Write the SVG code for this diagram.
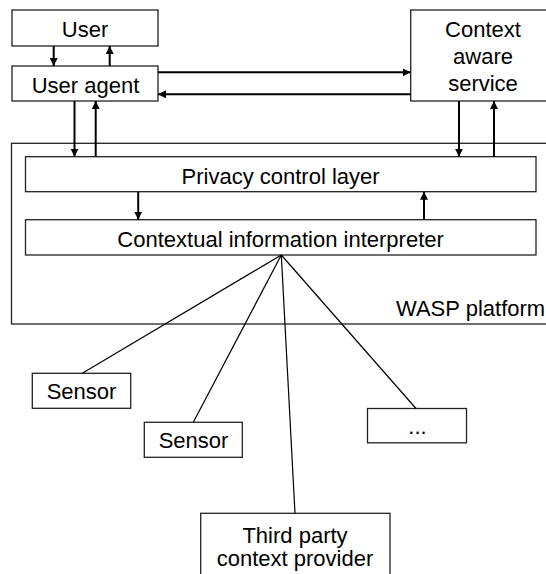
<svg xmlns="http://www.w3.org/2000/svg" width="546" height="574" viewBox="0 0 546 574">
<style>
.box{fill:#fff;stroke:#222;stroke-width:1.3}
.t{font-family:"Liberation Sans",Arial,Helvetica,sans-serif;font-size:22px;fill:#000;text-anchor:middle}
.arr{stroke:#000;stroke-width:2;fill:none;marker-end:url(#ah)}
.fan{stroke:#000;stroke-width:1.2;fill:none}
</style>
<defs>
<marker id="ah" markerUnits="userSpaceOnUse" markerWidth="8" markerHeight="8" viewBox="0 0 8 8" refX="8" refY="4" orient="auto">
<path d="M0,0 L8,4 L0,8 z" fill="#000"/>
</marker>
</defs>
<g id="wasp-platform">
<rect class="box" x="11.5" y="143.3" width="560" height="180.7"/>
<text class="t" x="396" y="316" style="text-anchor:start">WASP platform</text>
</g>
<g id="user">
<rect class="box" x="12" y="10" width="146" height="36"/>
<text class="t" x="85" y="37.3">User</text>
</g>
<g id="user-agent">
<rect class="box" x="12" y="66" width="146" height="35"/>
<text class="t" x="85.5" y="92.7">User agent</text>
</g>
<g id="context-aware-service">
<rect class="box" x="410.7" y="10" width="160" height="91"/>
<text class="t" x="483" y="36.7">Context</text>
<text class="t" x="483" y="63.7">aware</text>
<text class="t" x="483" y="90.7">service</text>
</g>
<g id="privacy-control-layer">
<rect class="box" x="25.5" y="156.7" width="510.5" height="35"/>
<text class="t" x="280.6" y="184">Privacy control layer</text>
</g>
<g id="contextual-information-interpreter">
<rect class="box" x="25.5" y="219.7" width="510.5" height="35.3"/>
<text class="t" x="280.6" y="246.7">Contextual information interpreter</text>
</g>
<g id="sensor-1">
<rect class="box" x="32.3" y="373.3" width="98.4" height="35"/>
<text class="t" x="81.5" y="399.3">Sensor</text>
</g>
<g id="sensor-2">
<rect class="box" x="144.3" y="422.3" width="98" height="35"/>
<text class="t" x="193.5" y="448.3">Sensor</text>
</g>
<g id="more">
<rect class="box" x="367.5" y="408.5" width="99" height="34.3"/>
<text class="t" x="417.5" y="434.3">...</text>
</g>
<g id="third-party-context-provider">
<rect class="box" x="200.7" y="513.3" width="189.3" height="80"/>
<text class="t" x="295" y="543.3">Third party</text>
<text class="t" x="295" y="566">context provider</text>
</g>
<g id="connectors">
<line class="arr" x1="53.7" y1="46" x2="53.7" y2="66"/>
<line class="arr" x1="109.7" y1="66" x2="109.7" y2="46"/>
<line class="arr" x1="158" y1="72.3" x2="410.7" y2="72.3"/>
<line class="arr" x1="410.7" y1="94.3" x2="158" y2="94.3"/>
<line class="arr" x1="74.5" y1="101" x2="74.5" y2="156.7"/>
<line class="arr" x1="95.7" y1="156.7" x2="95.7" y2="101"/>
<line class="arr" x1="459" y1="101" x2="459" y2="156.7"/>
<line class="arr" x1="494" y1="156.7" x2="494" y2="101"/>
<line class="arr" x1="138.2" y1="191.7" x2="138.2" y2="219.7"/>
<line class="arr" x1="424" y1="219.7" x2="424" y2="191.7"/>
<line class="fan" x1="281.3" y1="255" x2="82.3" y2="373.3"/>
<line class="fan" x1="281.3" y1="255" x2="193.3" y2="422.3"/>
<line class="fan" x1="281.3" y1="255" x2="295" y2="513.3"/>
<line class="fan" x1="281.3" y1="255" x2="416" y2="408.5"/>
</g>
</svg>
